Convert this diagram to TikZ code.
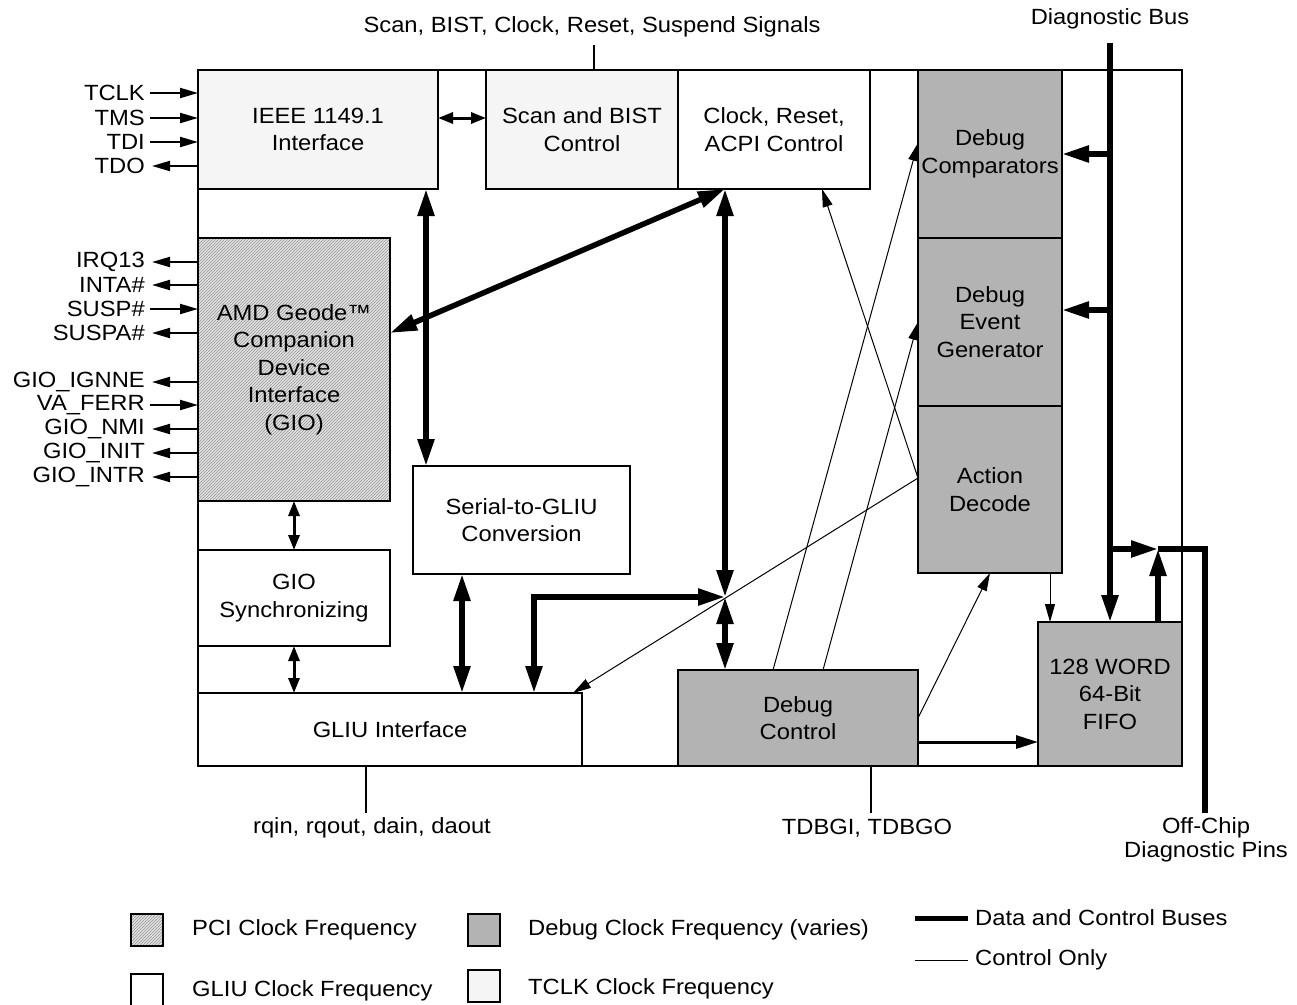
\documentclass[tikz,border=0pt]{standalone}
\usepackage{fontspec}
\setmainfont{Liberation Sans}[FakeStretch=1.08]
\usetikzlibrary{arrows.meta,patterns}
\definecolor{dbg}{HTML}{B3B3B3}
\definecolor{tck}{HTML}{F5F5F5}
\begin{document}
\begin{tikzpicture}[x=1pt,y=-1pt,
  txt/.style={font=\fontsize{22}{27.5}\selectfont, align=center, inner sep=0pt},
  box/.style={draw, line width=2pt, inner sep=0pt, outer sep=0pt, txt},
  hatch/.style={preaction={fill=gray!22}, pattern=north east lines, pattern color=gray!85},
  bus/.style={line width=5.5pt, >={Triangle[length=27pt,width=16pt]}},
  med/.style={line width=3pt, >={Triangle[length=15pt,width=11pt]}},
  dmed/.style={line width=3pt, >={Triangle[length=22pt,width=13pt]}},
  pin/.style={line width=2pt, >={Triangle[length=18pt,width=10pt]}},
  ctl/.style={line width=1pt, >={Triangle[length=18pt,width=10pt]}},
  plain/.style={line width=2pt}
]
\useasboundingbox (0,0) rectangle (1297,1004);

% outer frame
\node[draw, line width=2pt, inner sep=0pt, outer sep=0pt, minimum width=984pt, minimum height=696pt] (frame) at (690,418) {};

% blocks
\node[box, fill=tck, minimum width=240pt, minimum height=119pt] (ieee) at (318,129.5) {IEEE 1149.1\\Interface};
\node[box, fill=tck, minimum width=192pt, minimum height=119pt] (scan) at (582,129.5) {Scan and BIST\\Control};
\node[box, fill=white, minimum width=192pt, minimum height=119pt] (clk) at (774,129.5) {Clock, Reset,\\ACPI Control};
\node[box, fill=dbg, minimum width=144pt, minimum height=168pt] (dcomp) at (990,154) {Debug\\Comparators};
\node[box, fill=dbg, minimum width=144pt, minimum height=168pt] (devt) at (990,322) {Debug\\Event\\Generator};
\node[box, fill=dbg, minimum width=144pt, minimum height=167pt] (adec) at (990,489.5) {Action\\Decode};
\node[box, hatch, minimum width=192pt, minimum height=263pt] (gio) at (294,369.5) {AMD Geode™\\Companion\\Device\\Interface\\(GIO)};
\node[box, fill=white, minimum width=192pt, minimum height=96pt] (gsync) at (294,598) {GIO\\Synchronizing};
\node[box, fill=white, minimum width=217pt, minimum height=108pt] (serial) at (521.5,520) {Serial-to-GLIU\\Conversion};
\node[box, fill=white, minimum width=384pt, minimum height=73pt] (gliu) at (390,729.5) {GLIU Interface};
\node[box, fill=dbg, minimum width=240pt, minimum height=96pt] (dctl) at (798,718) {Debug\\Control};
\node[box, fill=dbg, minimum width=144pt, minimum height=144pt] (fifo) at (1110,694) {128 WORD\\64-Bit\\FIFO};

% JTAG pins
\node[txt, anchor=east] (tclk) at (145,93) {TCLK};
\node[txt, anchor=east] (tms) at (145,118) {TMS};
\node[txt, anchor=east] (tdi) at (145,142) {TDI};
\node[txt, anchor=east] (tdo) at (145,166) {TDO};
\draw[pin,->] ([xshift=5pt]tclk.east) -- (tclk.east -| ieee.west);
\draw[pin,->] ([xshift=5pt]tms.east) -- (tms.east -| ieee.west);
\draw[pin,->] ([xshift=5pt]tdi.east) -- (tdi.east -| ieee.west);
\draw[pin,<-] ([xshift=7pt]tdo.east) -- (tdo.east -| ieee.west);

% GIO pins
\node[txt, anchor=east] (irq) at (145,262) {IRQ13};
\node[txt, anchor=east] (inta) at (145,285) {INTA\#};
\node[txt, anchor=east] (susp) at (145,309) {SUSP\#};
\node[txt, anchor=east] (suspa) at (145,333) {SUSPA\#};
\node[txt, anchor=east] (ignne) at (145,382) {GIO\_IGNNE};
\node[txt, anchor=east] (ferr) at (145,405) {VA\_FERR};
\node[txt, anchor=east] (nmi) at (145,429) {GIO\_NMI};
\node[txt, anchor=east] (init) at (145,453) {GIO\_INIT};
\node[txt, anchor=east] (intr) at (145,477) {GIO\_INTR};
\draw[pin,<-] ([xshift=7pt]irq.east) -- (irq.east -| gio.west);
\draw[pin,<-] ([xshift=7pt]inta.east) -- (inta.east -| gio.west);
\draw[pin,->] ([xshift=5pt]susp.east) -- (susp.east -| gio.west);
\draw[pin,<-] ([xshift=7pt]suspa.east) -- (suspa.east -| gio.west);
\draw[pin,<-] ([xshift=7pt]ignne.east) -- (ignne.east -| gio.west);
\draw[pin,->] ([xshift=5pt]ferr.east) -- (ferr.east -| gio.west);
\draw[pin,<-] ([xshift=7pt]nmi.east) -- (nmi.east -| gio.west);
\draw[pin,<-] ([xshift=7pt]init.east) -- (init.east -| gio.west);
\draw[pin,<-] ([xshift=7pt]intr.east) -- (intr.east -| gio.west);

% internal connections
\draw[med,<->] ([yshift=11.5pt]ieee.east) -- ([yshift=11.5pt]scan.west);
\draw[bus,<->] ([xshift=108pt]ieee.south) -- ([xshift=-95.5pt]serial.north);
\draw[bus,<->] ([yshift=36.5pt]gio.east) -- ([xshift=-49pt]clk.south);
\coordinate (jn) at (725,597);
\draw[bus,<->] ([xshift=-49pt]clk.south) -- (jn);
\draw[bus,<->] (jn) -- ([xshift=-73pt]dctl.north);
\draw[bus,<->] ([xshift=144pt]gliu.north) |- (jn);
\draw[bus,<->] ([xshift=-59.5pt]serial.south) -- ([xshift=-59.5pt]serial.south |- gliu.north);
\draw[med,<->] (gio.south) -- (gsync.north);
\draw[med,<->] (gsync.south) -- (gsync.south |- gliu.north);

% control-only lines
\coordinate (adl) at ([yshift=11.5pt]adec.west);
\draw[ctl,->] (adl) -- ([xshift=48pt]clk.south);
\draw[ctl,->] (adl) -- ([xshift=-9pt]gliu.north east);
\draw[ctl,->] ([xshift=-25pt]dctl.north) -- ([yshift=11pt]dcomp.west);
\draw[ctl,->] ([xshift=25pt]dctl.north) -- (devt.west);
\draw[ctl,->] (dctl.east) -- (adec.south);
\draw[ctl,->] ([xshift=60pt]adec.south) -- ([xshift=-60pt]fifo.north);
\draw[dmed,->] ([yshift=-24pt]dctl.east) -- ([yshift=-24pt]dctl.east -| fifo.west);

% diagnostic bus
\node[txt] (dbus) at (1110,19) {Diagnostic Bus};
\coordinate (bustop) at (1110,43);
\draw[bus,->] (bustop) -- (fifo.north);
\draw[bus,->] (bustop |- dcomp.east) -- (dcomp.east);
\draw[bus,->] ([yshift=12pt]bustop |- devt.east) -- ([yshift=12pt]devt.east);
\coordinate (bj) at (1158,549);
\draw[bus,->] (bustop |- bj) -- (bj);
\draw[bus,->] ([xshift=48pt]fifo.north) -- (bj);
\node[txt] (offchip) at (1206,840) {Off-Chip\\[-4pt]Diagnostic Pins};
\coordinate (offc) at (1205,813);
\draw[line width=5.5pt] (bj) -| (offc);

% external signal labels
\node[txt] (topsig) at (592,27) {Scan, BIST, Clock, Reset, Suspend Signals};
\coordinate (ts) at (594,45);
\draw[plain] (ts) -- (ts |- frame.north);
\node[txt] (rq) at (372,828) {rqin, rqout, dain, daout};
\draw[plain] ([xshift=-24pt]gliu.south) -- ++(0,47);
\node[txt] (tdbg) at (867,828) {TDBGI, TDBGO};
\draw[plain] ([xshift=73pt]dctl.south) -- ++(0,47);

% legend
\node[box, hatch, minimum size=32pt] (lgpci) at (147,930) {};
\node[txt, anchor=west] (lgpcit) at (192,930) {PCI Clock Frequency};
\node[box, fill=dbg, minimum size=32pt] (lgdbg) at (484,930) {};
\node[txt, anchor=west] (lgdbgt) at (528,930) {Debug Clock Frequency (varies)};
\node[box, fill=white, minimum size=32pt] (lggliu) at (147,990) {};
\node[txt, anchor=west] (lggliut) at (192,991) {GLIU Clock Frequency};
\node[box, fill=tck, minimum size=32pt] (lgtclk) at (484,986) {};
\node[txt, anchor=west] (lgtclkt) at (528,989) {TCLK Clock Frequency};
\node[txt, anchor=west] (lgbus) at (975,918) {Data and Control Buses};
\coordinate (lgb) at (915,918);
\draw[line width=5pt] (lgb) -- ([xshift=-7pt]lgbus.west);
\node[txt, anchor=west] (lgctl) at (975,960) {Control Only};
\coordinate (lgc) at (915,960);
\draw[line width=1pt] (lgc) -- ([xshift=-7pt]lgctl.west);
\end{tikzpicture}
\end{document}
